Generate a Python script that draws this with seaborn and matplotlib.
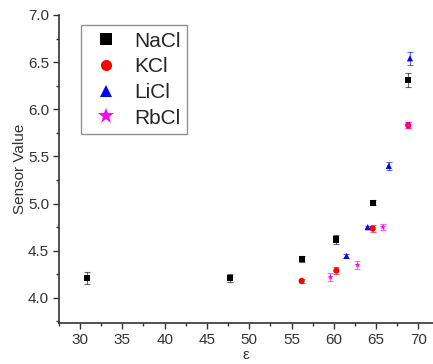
import pandas as pd
import seaborn as sns
import matplotlib.pyplot as plt
from matplotlib.ticker import MultipleLocator

salts = ["NaCl", "KCl", "LiCl", "RbCl"]
colors = ["black", "red", "blue", "magenta"]
markers = ["s", "o", "^", "*"]

nacl_x = [30.8, 47.7, 56.2, 60.3, 64.6, 68.8]
nacl_y = [4.21, 4.21, 4.41, 4.62, 5.01, 6.31]
nacl_err = [0.06, 0.04, 0.03, 0.05, 0.03, 0.07]

kcl_x = [56.2, 60.3, 64.6, 68.8]
kcl_y = [4.18, 4.29, 4.735, 5.83]
kcl_err = [0.02, 0.04, 0.04, 0.03]

licl_x = [61.5, 64.0, 66.5, 69.0]
licl_y = [4.445, 4.75, 5.40, 6.54]
licl_err = [0.02, 0.01, 0.04, 0.07]

rbcl_x = [59.6, 62.8, 65.8, 68.8]
rbcl_y = [4.22, 4.35, 4.75, 5.83]
rbcl_err = [0.04, 0.04, 0.03, 0.03]

frames = []
for name, xs, ys, es in [("NaCl", nacl_x, nacl_y, nacl_err),
                         ("KCl", kcl_x, kcl_y, kcl_err),
                         ("LiCl", licl_x, licl_y, licl_err),
                         ("RbCl", rbcl_x, rbcl_y, rbcl_err)]:
    frames.append(pd.DataFrame({"eps": xs, "val": ys, "err": es, "salt": name}))
df = pd.concat(frames, ignore_index=True)

sns.set_style("ticks")
plt.rcParams["font.family"] = ["Liberation Sans", "DejaVu Sans"]

fig, ax = plt.subplots(figsize=(4.33, 3.64), dpi=100)
fig.subplots_adjust(left=0.136, right=0.9995, top=0.959, bottom=0.113)

for salt, c in zip(salts, colors):
    d = df[df.salt == salt]
    ax.errorbar(d.eps, d.val, yerr=d.err, fmt="none", ecolor=c, alpha=0.6,
                elinewidth=0.8, capsize=2.5, capthick=0.8, zorder=1)

sns.scatterplot(data=df, x="eps", y="val", hue="salt", style="salt",
                hue_order=salts, style_order=salts,
                palette=dict(zip(salts, colors)), markers=dict(zip(salts, markers)),
                s=20, linewidth=0, ax=ax, zorder=2)

ax.set_xlim(27.5, 71.7)
ax.set_ylim(3.735, 7.0)
ax.xaxis.set_major_locator(MultipleLocator(5))
ax.xaxis.set_minor_locator(MultipleLocator(2.5))
ax.yaxis.set_major_locator(MultipleLocator(0.5))
ax.yaxis.set_minor_locator(MultipleLocator(0.25))
ax.yaxis.set_major_formatter(plt.FormatStrFormatter("%.1f"))
ax.tick_params(which="major", length=4, width=1, labelsize=11, colors="#333333", pad=3)
ax.tick_params(which="minor", length=2.5, width=1, colors="#333333")
for sp in ["left", "bottom"]:
    ax.spines[sp].set_linewidth(1.2)
    ax.spines[sp].set_color("#333333")
sns.despine(ax=ax)

ax.set_xlabel("ε", fontsize=11, color="#333333", labelpad=1)
ax.set_ylabel("Sensor Value", fontsize=11, color="#333333", labelpad=1)

handles, labels = ax.get_legend_handles_labels()
for h, lab in zip(handles, labels):
    h.set_markersize(12 if lab == "RbCl" else 8)
leg = ax.legend(handles, labels, loc="upper left", bbox_to_anchor=(0.03, 1.0),
                fontsize=15, frameon=True, fancybox=False, edgecolor="#777777",
                handletextpad=0.5, labelspacing=0.32, borderpad=0.3,
                handlelength=1.8)
leg.get_frame().set_linewidth(1.0)

plt.savefig("out.png", dpi=100)
